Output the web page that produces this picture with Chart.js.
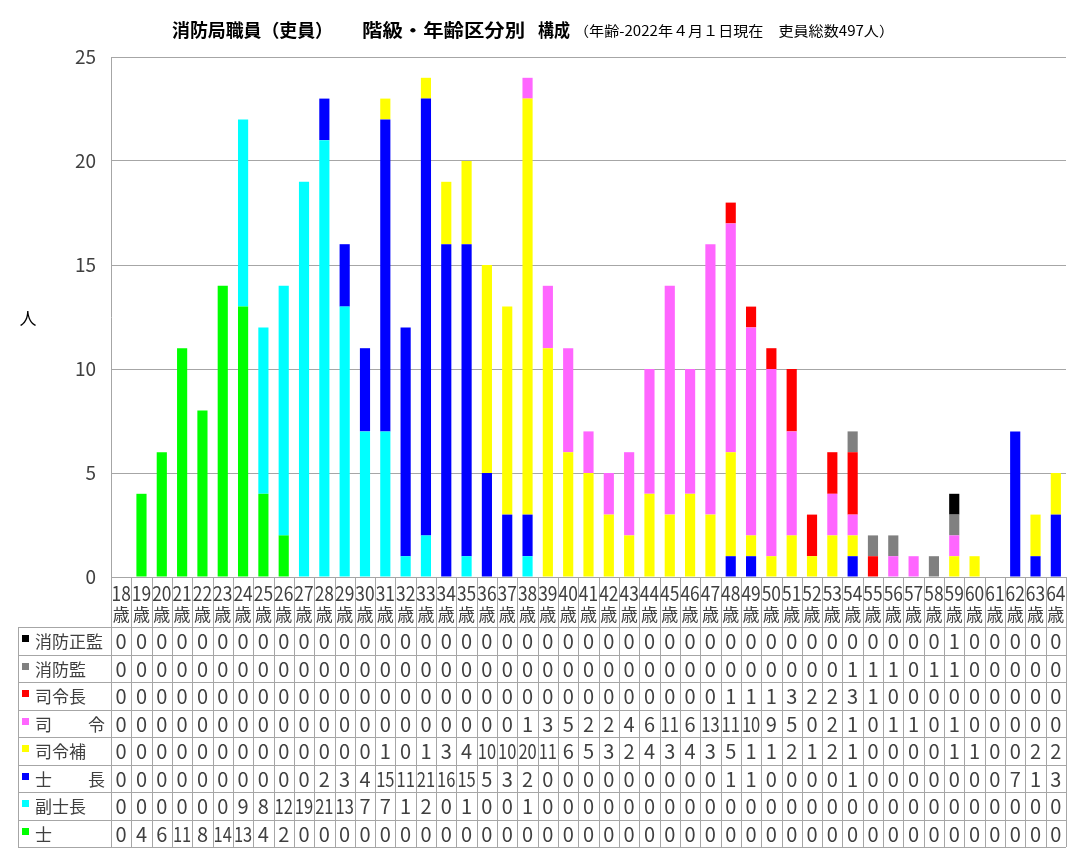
<!DOCTYPE html>
<html lang="ja">
<head>
<meta charset="utf-8">
<script src="https://cdn.jsdelivr.net/npm/chart.js@4/dist/chart.umd.min.js"></script>
<style>
  html, body { margin: 0; padding: 0; background: #fff; }
  #wrap { position: relative; width: 1077px; height: 849px; }
</style>
</head>
<body>
<div id="wrap"><canvas id="grafico"></canvas></div>
<script>
// categorias (idade)
const idades = ['18','19','20','21','22','23','24','25','26','27','28','29','30','31','32','33',
  '34','35','36','37','38','39','40','41','42','43','44','45','46','47','48','49',
  '50','51','52','53','54','55','56','57','58','59','60','61','62','63','64'];

// séries, de baixo para cima na pilha
const shi        = [0,4,6,11,8,14,13,4,2,0,0,0,0,0,0,0,0,0,0,0,0,0,0,0,0,0,0,0,0,0,0,0,0,0,0,0,0,0,0,0,0,0,0,0,0,0,0];
const fukuShicho = [0,0,0,0,0,0,9,8,12,19,21,13,7,7,1,2,0,1,0,0,1,0,0,0,0,0,0,0,0,0,0,0,0,0,0,0,0,0,0,0,0,0,0,0,0,0,0];
const shicho     = [0,0,0,0,0,0,0,0,0,0,2,3,4,15,11,21,16,15,5,3,2,0,0,0,0,0,0,0,0,0,1,1,0,0,0,0,1,0,0,0,0,0,0,0,7,1,3];
const shireiho   = [0,0,0,0,0,0,0,0,0,0,0,0,0,1,0,1,3,4,10,10,20,11,6,5,3,2,4,3,4,3,5,1,1,2,1,2,1,0,0,0,0,1,1,0,0,2,2];
const shirei     = [0,0,0,0,0,0,0,0,0,0,0,0,0,0,0,0,0,0,0,0,1,3,5,2,2,4,6,11,6,13,11,10,9,5,0,2,1,0,1,1,0,1,0,0,0,0,0];
const shireicho  = [0,0,0,0,0,0,0,0,0,0,0,0,0,0,0,0,0,0,0,0,0,0,0,0,0,0,0,0,0,0,1,1,1,3,2,2,3,1,0,0,0,0,0,0,0,0,0];
const shobokan   = [0,0,0,0,0,0,0,0,0,0,0,0,0,0,0,0,0,0,0,0,0,0,0,0,0,0,0,0,0,0,0,0,0,0,0,0,1,1,1,0,1,1,0,0,0,0,0];
const shoboSeikan= [0,0,0,0,0,0,0,0,0,0,0,0,0,0,0,0,0,0,0,0,0,0,0,0,0,0,0,0,0,0,0,0,0,0,0,0,0,0,0,0,0,1,0,0,0,0,0];

const nomes = ['士', '副士長', '士　長', '司令補', '司　令', '司令長', '消防監', '消防正監'];
const cores = ['#00ff00', '#00ffff', '#0000ff', '#ffff00', '#ff66ff', '#ff0000', '#808080', '#000000'];
const series = [shi, fukuShicho, shicho, shireiho, shirei, shireicho, shobokan, shoboSeikan];

const yTicks = [0, 5, 10, 15, 20, 25];

const NUM = "'Liberation Sans Narrow', 'Noto Sans CJK JP', sans-serif";
const JP = "'Noto Sans CJK JP', sans-serif";
const LINHA = '#a6a6a6';

// escreve o texto esticado/apertado para caber entre x e x + largura
function textoAjustado(ctx, texto, x, y, largura) {
  const w = ctx.measureText(texto).width;
  ctx.save();
  ctx.translate(x, y);
  ctx.scale(largura / w, 1);
  ctx.textAlign = 'left';
  ctx.fillText(texto, 0, 0);
  ctx.restore();
}

// título, rótulo do eixo, rótulos das idades e tabela de dados
const tabelaPlugin = {
  id: 'tabela',
  afterDraw(chart) {
    const ctx = chart.ctx;
    const sx = chart.scales.x;
    const area = chart.chartArea;
    const n = chart.data.labels.length;
    const col = sx.getPixelForValue(1) - sx.getPixelForValue(0);
    const topo = area.bottom;
    const cab = 50;
    const alt = 27.5;
    const esq = 18;
    const dir = area.right;
    const ds = chart.data.datasets;
    const linhas = ds.length;
    const fim = topo + cab + alt * linhas;

    ctx.save();

    // título
    ctx.fillStyle = '#000';
    ctx.textBaseline = 'middle';
    ctx.font = 'bold 18px ' + JP;
    textoAjustado(ctx, '消防局職員（吏員）', 172, 30, 161);
    textoAjustado(ctx, '階級・年齢区分別', 362, 30, 163);
    textoAjustado(ctx, '構成', 538, 30, 32);
    ctx.font = '14px ' + JP;
    textoAjustado(ctx, '（年齢-2022年４月１日現在　吏員総数497人）', 574, 31, 320);

    // rótulo do eixo y
    ctx.font = '17px ' + JP;
    ctx.textAlign = 'center';
    ctx.fillText('人', 28, 319);

    // linhas da tabela
    ctx.strokeStyle = LINHA;
    ctx.lineWidth = 1;
    ctx.beginPath();
    ctx.moveTo(area.left, topo + 0.5);
    ctx.lineTo(dir, topo + 0.5);
    for (let r = 0; r <= linhas; r++) {
      const y = Math.round(topo + cab + alt * r) + 0.5;
      ctx.moveTo(esq, y);
      ctx.lineTo(dir, y);
    }
    for (let i = 0; i <= n; i++) {
      const x = Math.round(sx.getPixelForValue(i) - col / 2) + 0.5;
      ctx.moveTo(x, topo);
      ctx.lineTo(x, fim);
    }
    ctx.moveTo(esq + 0.5, topo + cab);
    ctx.lineTo(esq + 0.5, fim);
    ctx.stroke();

    // idades
    ctx.fillStyle = '#404040';
    ctx.textAlign = 'center';
    for (let i = 0; i < n; i++) {
      const x = sx.getPixelForValue(i);
      ctx.font = '20px ' + NUM;
      ctx.fillText(chart.data.labels[i], x, topo + 16, col - 1);
      ctx.font = '17px ' + JP;
      ctx.fillText('歳', x, topo + 38, col - 2);
    }

    // linhas de valores (de cima: último dataset)
    for (let r = 0; r < linhas; r++) {
      const d = ds[linhas - 1 - r];
      const yTop = topo + cab + alt * r;
      const yc = yTop + alt / 2 + 1;
      ctx.fillStyle = d.backgroundColor;
      ctx.fillRect(22, Math.round(yTop) + 8, 7, 7);
      ctx.fillStyle = '#404040';
      ctx.font = '17px ' + JP;
      const nome = d.label;
      if (nome.length === 3 && nome[1] === '　') {
        ctx.textAlign = 'left';
        ctx.fillText(nome[0], 35, yc);
        ctx.textAlign = 'right';
        ctx.fillText(nome[2], 105, yc);
      } else {
        ctx.textAlign = 'left';
        ctx.fillText(nome, 35, yc, 72);
      }
      ctx.textAlign = 'center';
      ctx.font = '20px ' + NUM;
      for (let i = 0; i < n; i++) {
        ctx.fillText(String(d.data[i]), sx.getPixelForValue(i), yc, col - 2);
      }
    }

    ctx.restore();
  }
};

document.addEventListener('DOMContentLoaded', () => {
  const ctx = document.getElementById('grafico').getContext('2d');

  new Chart(ctx, {
    type: 'bar',
    data: {
      labels: idades,
      datasets: series.map((s, k) => ({
        label: nomes[k],
        data: s,
        backgroundColor: cores[k],
        borderWidth: 0,
        barPercentage: 0.5,
        categoryPercentage: 1.0
      }))
    },
    options: {
      responsive: true,
      maintainAspectRatio: false,
      animation: false,
      layout: { padding: { left: 0, right: 11, top: 57, bottom: 272 } },
      plugins: {
        legend: { display: false },
        tooltip: { enabled: false }
      },
      scales: {
        x: {
          stacked: true,
          display: false
        },
        y: {
          stacked: true,
          min: 0,
          max: 25,
          afterFit(s) { s.width = 111; },
          afterBuildTicks(s) { s.ticks = yTicks.map(v => ({ value: v })); },
          border: { display: true, color: LINHA },
          grid: { color: LINHA, drawTicks: false },
          ticks: {
            padding: 15,
            color: '#404040',
            font: { family: NUM, size: 19 }
          }
        }
      }
    },
    plugins: [tabelaPlugin]
  });
});
</script>
</body>
</html>
